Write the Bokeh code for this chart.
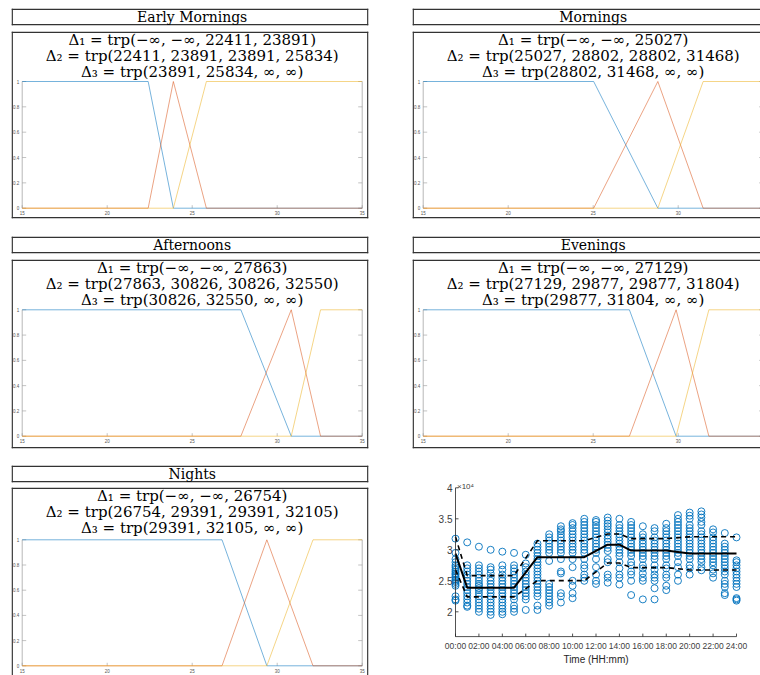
from bokeh.plotting import figure
from bokeh.layouts import column, row
from bokeh.models import Range1d
from bokeh.core.properties import value
from bokeh.embed import file_html
from bokeh.resources import INLINE

# ---------------- data ----------------
segment_names = ["Early Mornings", "Mornings", "Afternoons", "Evenings", "Nights"]
mf_lower = [22411, 25027, 27863, 27129, 26754]
mf_peak = [23891, 28802, 30826, 29877, 29391]
mf_upper = [25834, 31468, 32550, 31804, 32105]
delta1_lists_peak = [True, False, False, False, False]
mf_domain = [15000, 35000]
mf_xticks = [15000, 20000, 25000, 30000, 35000]
mf_xtick_labels = ["15", "20", "25", "30", "35"]
mf_yticks = [0, 0.2, 0.4, 0.6, 0.8, 1]
mf_ytick_labels = ["0", "0.2", "0.4", "0.6", "0.8", "1"]

hours = list(range(25))
# index into segment_names for each hour (None = transition hour)
hour_segment = [4, 0, 0, 0, 0, 0, None, 1, 1, 1, 1, 1, None, 2, 2,
                3, 3, 3, 3, None, 4, 4, 4, 4, 4]
# load values (x 10^4) observed at each hour
loads_by_hour = [
    [3.18, 2.95, 2.85, 2.8, 2.75, 2.72, 2.68, 2.65, 2.62, 2.6, 2.57, 2.55, 2.52, 2.5, 2.48, 2.45, 2.42, 2.25, 2.2, 2.18],
    [3.12, 2.75, 2.7, 2.65, 2.6, 2.55, 2.5, 2.45, 2.4, 2.35, 2.3, 2.25, 2.2, 2.15, 2.1, 2.08],
    [3.05, 2.75, 2.7, 2.65, 2.6, 2.55, 2.5, 2.45, 2.42, 2.38, 2.35, 2.3, 2.25, 2.2, 2.15, 2.1, 2.05, 2.0],
    [3.0, 2.72, 2.68, 2.62, 2.55, 2.5, 2.45, 2.4, 2.35, 2.3, 2.25, 2.2, 2.15, 2.1, 2.05, 2.0, 1.95],
    [2.97, 2.75, 2.68, 2.6, 2.55, 2.5, 2.45, 2.4, 2.35, 2.3, 2.25, 2.2, 2.15, 2.1, 2.05, 2.0, 1.96],
    [2.95, 2.75, 2.7, 2.65, 2.6, 2.55, 2.5, 2.45, 2.4, 2.35, 2.3, 2.25, 2.2, 2.1, 2.05, 2.0],
    [2.92, 2.78, 2.72, 2.65, 2.6, 2.55, 2.5, 2.45, 2.4, 2.35, 2.3, 2.25, 2.2, 2.03],
    [3.1, 3.05, 3.0, 2.95, 2.9, 2.85, 2.8, 2.75, 2.7, 2.65, 2.6, 2.55, 2.5, 2.45, 2.4, 2.35, 2.3, 2.25, 2.1, 2.03],
    [3.25, 3.2, 3.15, 3.1, 3.05, 3.0, 2.95, 2.82, 2.45, 2.4, 2.35, 2.3, 2.25, 2.2, 2.15, 2.1],
    [3.38, 3.33, 3.3, 3.25, 3.2, 3.15, 3.1, 3.05, 3.0, 2.95, 2.85, 2.65, 2.62, 2.3, 2.25, 2.15],
    [3.43, 3.4, 3.35, 3.3, 3.25, 3.2, 3.15, 3.1, 3.05, 3.0, 2.95, 2.85, 2.72, 2.5, 2.42, 2.3, 2.22],
    [3.5, 3.45, 3.4, 3.35, 3.3, 3.25, 3.2, 3.15, 3.1, 3.05, 3.0, 2.95, 2.85, 2.75, 2.7, 2.6, 2.55, 2.5],
    [3.48, 3.45, 3.4, 3.35, 3.3, 3.25, 3.2, 3.15, 3.1, 3.05, 3.0, 2.95, 2.85, 2.72, 2.6, 2.5, 2.45],
    [3.52, 3.47, 3.42, 3.38, 3.33, 3.28, 3.23, 3.18, 3.13, 3.08, 3.03, 2.98, 2.85, 2.8, 2.6, 2.55, 2.47],
    [3.5, 3.4, 3.35, 3.3, 3.25, 3.2, 3.15, 3.1, 3.05, 3.0, 2.95, 2.9, 2.8, 2.7, 2.6, 2.55, 2.44],
    [3.45, 3.4, 3.35, 3.3, 3.25, 3.2, 3.15, 3.1, 3.05, 3.0, 2.95, 2.9, 2.8, 2.75, 2.65, 2.6, 2.5, 2.27],
    [3.38, 3.25, 3.2, 3.15, 3.1, 3.05, 3.0, 2.95, 2.9, 2.85, 2.75, 2.7, 2.62, 2.55, 2.5, 2.2],
    [3.35, 3.3, 3.2, 3.15, 3.1, 3.05, 3.0, 2.95, 2.9, 2.85, 2.75, 2.68, 2.6, 2.55, 2.5, 2.38, 2.2],
    [3.42, 3.35, 3.3, 3.25, 3.2, 3.15, 3.1, 3.05, 3.0, 2.95, 2.9, 2.85, 2.75, 2.7, 2.6, 2.55, 2.42, 2.35],
    [3.56, 3.5, 3.45, 3.4, 3.35, 3.3, 3.25, 3.2, 3.15, 3.1, 3.05, 3.0, 2.95, 2.9, 2.8, 2.72, 2.6, 2.5],
    [3.6, 3.55, 3.5, 3.4, 3.35, 3.3, 3.25, 3.2, 3.15, 3.1, 3.05, 3.0, 2.95, 2.9, 2.85, 2.75, 2.7, 2.6],
    [3.62, 3.57, 3.52, 3.45, 3.4, 3.3, 3.25, 3.2, 3.15, 3.1, 3.05, 3.0, 2.95, 2.9, 2.85, 2.8, 2.72, 2.67],
    [3.33, 3.28, 3.2, 3.15, 3.1, 3.05, 3.0, 2.95, 2.9, 2.85, 2.8, 2.75, 2.68, 2.62, 2.55],
    [3.27, 3.1, 3.05, 3.0, 2.95, 2.9, 2.85, 2.8, 2.75, 2.7, 2.65, 2.6, 2.5, 2.45, 2.4, 2.3, 2.27],
    [3.2, 2.83, 2.8, 2.75, 2.7, 2.65, 2.6, 2.55, 2.5, 2.45, 2.4, 2.22, 2.2, 2.18],
]
load_scale = 10000
time_axis_limits = [0, 24]
load_axis_limits = [1.6, 4.0]
time_ticks = [0, 2, 4, 6, 8, 10, 12, 14, 16, 18, 20, 22, 24]
time_tick_labels = ["00:00", "02:00", "04:00", "06:00", "08:00", "10:00", "12:00",
                    "14:00", "16:00", "18:00", "20:00", "22:00", "24:00"]
load_ticks = [2, 2.5, 3, 3.5, 4]
load_tick_labels = ["2", "2.5", "3", "3.5", "4"]

# ---------------- styling ----------------
MF_COLORS = ["#0072BD", "#D95319", "#EDB120"]
SERIF = value("DejaVu Serif")
SANS = value("Liberation Sans")
BOX = "#333333"
BOX_W = 1.4
PX_X = 17.0 / 1000.0        # px per x-data unit in the membership plots
INNER_LEFT = 10.7           # px from box edge to inner plot's left axis

# (left border, frame width, right border)
COLS = {"left": (11, 357, 1), "right": (43, 348, 0)}
ROWS = [
    {"title": (8, 17, 2), "box": (4, 187, 11), "y0": 10.3, "ppu": 126.7},
    {"title": (7, 17, 2), "box": (4, 189, 10), "y0": 12.3, "ppu": 126.4},
    {"title": (7, 17, 2), "box": (3, 188, 0), "y0": 9.7, "ppu": 126.0},
]


def base_fig(col, vert, xr, yr, sides="ltrb"):
    bl, fw, br = COLS[col]
    bt, fh, bb = vert
    p = figure(width=bl + fw + br, height=bt + fh + bb, x_range=xr, y_range=yr,
               toolbar_location=None, output_backend="svg",
               x_axis_location=None, y_axis_location=None,
               min_border_left=bl, min_border_right=br,
               min_border_top=bt, min_border_bottom=bb)
    p.grid.visible = False
    p.outline_line_color = None
    p.background_fill_color = "white"
    p.border_fill_color = "white"
    # box edges drawn just inside the frame (edges that run off the page are left out)
    xs, xe, ys, ye = xr.start, xr.end, yr.start, yr.end
    dx = (BOX_W / 2) * (xe - xs) / fw
    dy = (BOX_W / 2) * (ye - ys) / fh
    edges = {"l": (xs + dx, ys, xs + dx, ye), "r": (xe - dx, ys, xe - dx, ye),
             "t": (xs, ye - dy, xe, ye - dy), "b": (xs, ys + dy, xe, ys + dy)}
    sel = [edges[s] for s in sides]
    if sel:
        p.segment(x0=[e[0] for e in sel], y0=[e[1] for e in sel],
                  x1=[e[2] for e in sel], y1=[e[3] for e in sel],
                  line_color=BOX, line_width=BOX_W)
    return p


def x_range_for(col):
    bl, fw, br = COLS[col]
    start = mf_domain[0] - INNER_LEFT / PX_X
    return Range1d(start, start + fw / PX_X)


def panel(i, col, r, title_sides, box_sides):
    spec = ROWS[r]
    a, b, c = mf_lower[i], mf_peak[i], mf_upper[i]
    lo, hi = mf_domain
    # title box
    t = base_fig(col, spec["title"], x_range_for(col), Range1d(0, 1), title_sides)
    t.text(x=[sum(mf_domain) / 2], y=[0.5], text=[segment_names[i]],
           text_font=SERIF, text_font_size="14px", text_align="center",
           text_baseline="middle", text_color="black")
    # formula box + membership plot
    bt, fh, bb = spec["box"]
    ppu = spec["ppu"]
    y_start = -spec["y0"] / ppu
    y_end = y_start + fh / ppu
    xr = x_range_for(col)
    f = base_fig(col, spec["box"], xr, Range1d(y_start, y_end), box_sides)

    d1 = f"Δ₁ = trp(−∞, −∞, {a}, {b})" if delta1_lists_peak[i] else f"Δ₁ = trp(−∞, −∞, {a})"
    d2 = f"Δ₂ = trp({a}, {b}, {b}, {c})"
    d3 = f"Δ₃ = trp({b}, {c}, ∞, ∞)"
    f.text(x=[sum(mf_domain) / 2] * 3,
           y=[y_end - off / ppu for off in (8, 24, 40)],
           text=[d1, d2, d3], text_font=SERIF, text_font_size="15px",
           text_align="center", text_baseline="middle", text_color="black")

    # inner axes
    axc = "#9a9a9a"
    f.segment(x0=[lo, hi], y0=[mf_yticks[0]] * 2, x1=[lo, hi], y1=[mf_yticks[-1]] * 2,
              line_color=axc, line_width=0.7)
    tlx = 4 / PX_X
    n = len(mf_yticks)
    f.segment(x0=[lo] * n, y0=mf_yticks, x1=[lo + tlx] * n, y1=mf_yticks,
              line_color=axc, line_width=0.6)
    f.segment(x0=[hi - tlx] * n, y0=mf_yticks, x1=[hi] * n, y1=mf_yticks,
              line_color=axc, line_width=0.6)
    f.segment(x0=mf_xticks, y0=[0] * len(mf_xticks), x1=mf_xticks, y1=[3 / ppu] * len(mf_xticks),
              line_color=axc, line_width=0.6)
    f.text(x=[lo - 3 / PX_X] * n, y=mf_yticks, text=mf_ytick_labels,
           text_font=SANS, text_font_size="4.5px", text_align="right",
           text_baseline="middle", text_color="#555555")
    half_label = 6 / PX_X
    vis = [(x, s) for x, s in zip(mf_xticks, mf_xtick_labels) if x + half_label <= xr.end]
    f.text(x=[v[0] for v in vis], y=[-3 / ppu] * len(vis), text=[v[1] for v in vis],
           text_font=SANS, text_font_size="4.5px", text_align="center",
           text_baseline="top", text_color="#555555")

    # membership functions
    f.line([lo, a, b, hi], [1, 1, 0, 0], line_color=MF_COLORS[0], line_width=0.9, line_alpha=0.6)
    f.line([lo, a, b, c, hi], [0, 0, 1, 0, 0], line_color=MF_COLORS[1], line_width=0.9, line_alpha=0.6)
    f.line([lo, b, c, hi], [0, 0, 1, 1], line_color=MF_COLORS[2], line_width=0.9, line_alpha=0.6)
    return t, f


em_t, em_f = panel(0, "left", 0, "ltrb", "ltrb")
mo_t, mo_f = panel(1, "right", 0, "ltb", "ltb")
af_t, af_f = panel(2, "left", 1, "ltrb", "ltrb")
ev_t, ev_f = panel(3, "right", 1, "ltb", "ltb")
ni_t, ni_f = panel(4, "left", 2, "ltrb", "ltr")

# ---------------- scatter panel (axes drawn inside a borderless frame) ----------------
SX = 281.0 / 24.0      # px per hour
SY = 62.0              # px per 1e4
FRAME_W, FRAME_H = 348, 217
AXIS_LEFT_PX = 43      # from frame left to the y axis
AXIS_TOP_PX = 29.3     # from frame top to y = 4
sx_start = time_axis_limits[0] - AXIS_LEFT_PX / SX
sy_end = load_axis_limits[1] + AXIS_TOP_PX / SY
sy_start = sy_end - FRAME_H / SY
sp = base_fig("right", (0, FRAME_H, 0), Range1d(sx_start, sx_start + FRAME_W / SX),
              Range1d(sy_start, sy_end), sides="")

xs, ys = [], []
for h, vals in zip(hours, loads_by_hour):
    xs += [h] * len(vals)
    ys += vals
sp.scatter(xs, ys, marker="circle", size=7, fill_color=None,
           line_color="#0072BD", line_width=0.9)

line_h = [h for h, s in zip(hours, hour_segment) if s is not None]
line_seg = [s for s in hour_segment if s is not None]
sp.line(line_h, [mf_upper[s] / load_scale for s in line_seg], line_color="black",
        line_width=1.6, line_dash="5 4")
sp.line(line_h, [mf_lower[s] / load_scale for s in line_seg], line_color="black",
        line_width=1.6, line_dash="5 4")
sp.line(line_h, [mf_peak[s] / load_scale for s in line_seg], line_color="black", line_width=2)

AXC = "#262626"
t0, t1 = time_axis_limits
l0, l1 = load_axis_limits
sp.segment(x0=[t0, t0], y0=[l0, l0], x1=[t0, t1], y1=[l1, l0], line_color=AXC, line_width=0.8)
sp.segment(x0=[t0] * len(load_ticks), y0=load_ticks, x1=[t0 + 3 / SX] * len(load_ticks),
           y1=load_ticks, line_color=AXC, line_width=0.8)
sp.segment(x0=time_ticks, y0=[l0] * len(time_ticks), x1=time_ticks,
           y1=[l0 + 3 / SY] * len(time_ticks), line_color=AXC, line_width=0.8)
sp.text(x=[t0 - 3 / SX] * len(load_ticks), y=load_ticks, text=load_tick_labels,
        text_font=SANS, text_font_size="10px", text_align="right",
        text_baseline="middle", text_color="#404040")
sp.text(x=time_ticks, y=[l0 - 4 / SY] * len(time_ticks), text=time_tick_labels,
        text_font=SANS, text_font_size="8.5px", text_align="center",
        text_baseline="top", text_color="#404040")
sp.text(x=[(t0 + t1) / 2], y=[l0 - 17 / SY], text=["Time (HH:mm)"],
        text_font=SANS, text_font_size="10px", text_align="center",
        text_baseline="top", text_color=AXC)
sp.text(x=[t0 + 1.5 / SX], y=[l1 + 1.5 / SY], text=["×10⁴"],
        text_font=SANS, text_font_size="8px", text_align="left",
        text_baseline="alphabetic", text_color="#404040")

left_col = column(em_t, em_f, af_t, af_f, ni_t, ni_f, spacing=0)
right_col = column(mo_t, mo_f, ev_t, ev_f, sp, spacing=0)
layout = row(left_col, right_col, spacing=0)

open("out.html", "w").write(file_html(layout, INLINE))
